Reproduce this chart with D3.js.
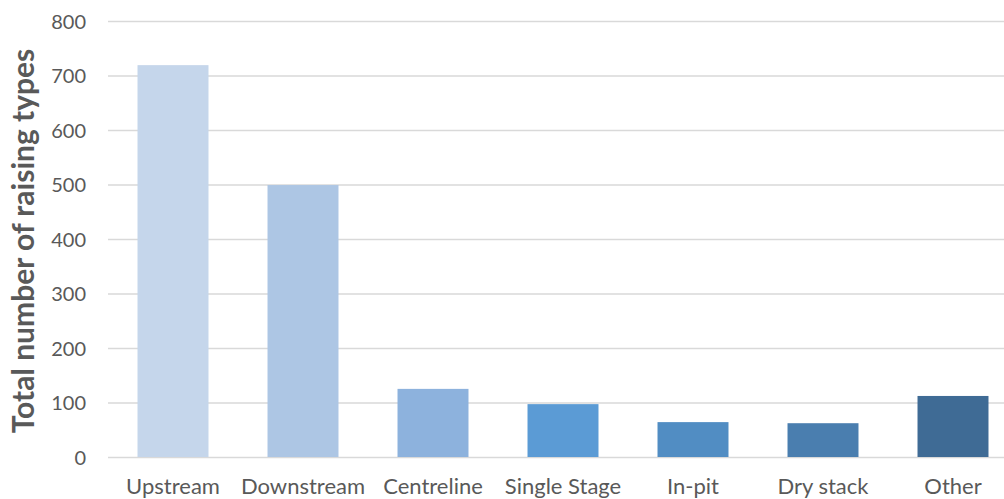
<!DOCTYPE html>
<html>
<head>
<meta charset="utf-8">
<script src="https://cdn.jsdelivr.net/npm/d3@7"></script>
<style>
  html, body { margin: 0; padding: 0; background: #ffffff; }
  svg { display: block; }
  text { font-family: Lato, "Open Sans", "Liberation Sans", sans-serif; fill: #595959; }
</style>
</head>
<body>
<svg id="chart" width="1004" height="499"></svg>
<script>
// Raising types of tailings facilities
const categories = ["Upstream", "Downstream", "Centreline", "Single Stage", "In-pit", "Dry stack", "Other"];
const counts = [719, 499, 125, 97, 64, 62, 112];
const barColors = ["#c5d6eb", "#adc6e4", "#8db2dd", "#5b9bd5", "#518dc3", "#4a7eaf", "#3f6b95"];
const yTicks = [0, 100, 200, 300, 400, 500, 600, 700, 800];
const yTitle = "Total number of raising types";

const svg = d3.select("#chart");
const plotLeft = 108, plotTop = 21, plotBottom = 457;
const step = 130;
const plotRight = plotLeft + step * categories.length;

const x = d3.scaleBand()
  .domain(categories)
  .range([plotLeft, plotRight])
  .paddingInner(0.454)
  .paddingOuter(0.227);

const y = d3.scaleLinear()
  .domain([0, 800])
  .range([plotBottom, plotTop]);

// horizontal gridlines with value labels
const yAxis = svg.append("g")
  .attr("transform", `translate(${plotLeft},0)`)
  .call(d3.axisLeft(y).tickValues(yTicks).tickSize(-(plotRight - plotLeft)).tickPadding(22).tickFormat(d3.format("d")));
yAxis.select(".domain").remove();
yAxis.selectAll(".tick line").attr("stroke", "#d9d9d9").attr("stroke-width", 1.5);
yAxis.selectAll(".tick text").style("font-size", "20px").attr("fill", "#595959").attr("dy", "0.35em");

// bars
svg.append("g").selectAll("rect")
  .data(categories)
  .join("rect")
  .attr("x", d => x(d))
  .attr("width", x.bandwidth())
  .attr("y", (d, i) => y(counts[i]))
  .attr("height", (d, i) => y(0) - y(counts[i]))
  .attr("fill", (d, i) => barColors[i]);

// category labels
const xAxis = svg.append("g")
  .attr("transform", `translate(0,${plotBottom})`)
  .call(d3.axisBottom(x).tickSize(0).tickPadding(21));
xAxis.select(".domain").remove();
xAxis.selectAll(".tick text").style("font-size", "22px").attr("fill", "#595959");

// axis title
svg.append("text")
  .attr("transform", `translate(34,241) rotate(-90)`)
  .attr("text-anchor", "middle")
  .style("font-size", "30px")
  .style("font-weight", "bold")
  .text(yTitle);
</script>
</body>
</html>
